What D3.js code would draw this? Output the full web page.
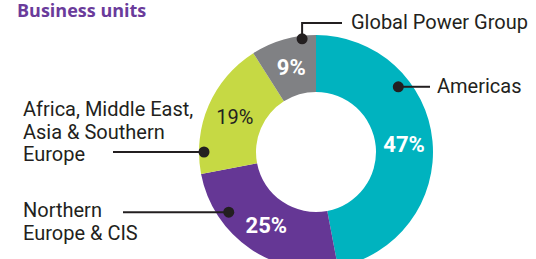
<!DOCTYPE html>
<html>
<head>
<meta charset="utf-8">
<script src="https://cdn.jsdelivr.net/npm/d3@7"></script>
<style>
  body { margin: 0; background: #fff; }
  text { font-family: Roboto, sans-serif; }
</style>
</head>
<body>
<svg id="chart" width="536" height="259"></svg>
<script>
// data
const units = ["Americas", "Northern Europe & CIS", "Africa, Middle East, Asia & Southern Europe", "Global Power Group"];
const shares = [47, 25, 19, 9];
const pctLabels = ["47%", "25%", "19%", "9%"];
const labelLines = [["Americas"], ["Northern", "Europe & CIS"], ["Africa, Middle East,", "Asia & Southern", "Europe"], ["Global Power Group"]];

const colors = ["#00b3bf", "#653795", "#c6d944", "#808184"];
const pctColors = ["#fff", "#fff", "#231f20", "#fff"];
const pctWeights = [700, 700, 400, 700];

const width = 536, height = 259;
const cx = 316, cy = 152;
const outerR = 117, innerR = 60;

const svg = d3.select("#chart");

svg.append("text")
    .attr("x", 17)
    .attr("y", 17)
    .attr("fill", "#6a3b9b")
    .style("font-family", "'Open Sans', sans-serif")
    .style("font-size", "18px")
    .style("font-weight", 700)
    .text("Business units");

const g = svg.append("g").attr("transform", `translate(${cx},${cy})`);

const pie = d3.pie().sort(null).value(d => d);
const arcs = pie(shares);
const arc = d3.arc().innerRadius(innerR).outerRadius(outerR);

g.selectAll("path.slice")
    .data(arcs).enter()
    .append("path")
    .attr("class", "slice")
    .attr("d", arc)
    .attr("fill", (d, i) => colors[i]);

g.selectAll("text.pct")
    .data(arcs).enter()
    .append("text")
    .attr("class", "pct")
    .attr("transform", d => `translate(${arc.centroid(d)})`)
    .attr("text-anchor", "middle")
    .attr("dy", "0.36em")
    .attr("fill", (d, i) => pctColors[i])
    .style("font-weight", (d, i) => pctWeights[i])
    .style("font-size", (d, i) => pctWeights[i] === 700 ? "22px" : "20px")
    .text((d, i) => pctLabels[i]);

// callouts: dot position (degrees clockwise from top, radius), line end and label spot
const callouts = [
    { ang: 51.6, r: 105, path: "h", to: 430, tx: 437, ty: 93, lh: 22.5 },
    { ang: 235.4, r: 106, path: "h", to: 123, tx: 23, ty: 217, lh: 23 },
    { ang: 270, r: 112, path: "h", to: 113, tx: 23, ty: 116, lh: 22.5 },
    { ang: -7, r: 114, path: "up", upY: 23, to: 342, tx: 351, ty: 29, lh: 22.5 }
];

const lc = "#231f20";
callouts.forEach((c, i) => {
    const [px, py] = d3.pointRadial(c.ang * Math.PI / 180, c.r);
    const x0 = cx + px, y0 = cy + py;
    let pts;
    if (c.path === "up") pts = [[x0, y0], [x0, c.upY], [c.to, c.upY]];
    else pts = [[x0, y0], [c.to, y0]];
    svg.append("path")
        .attr("d", d3.line()(pts))
        .attr("fill", "none")
        .attr("stroke", lc)
        .attr("stroke-width", 2);
    svg.append("circle")
        .attr("cx", x0).attr("cy", y0).attr("r", 5.5)
        .attr("fill", lc);
    const t = svg.append("text")
        .attr("x", c.tx).attr("y", c.ty)
        .attr("fill", lc)
        .style("font-size", "20px");
    labelLines[i].forEach((s, j) => {
        t.append("tspan").attr("x", c.tx).attr("dy", j === 0 ? 0 : c.lh).text(s);
    });
});
</script>
</body>
</html>
